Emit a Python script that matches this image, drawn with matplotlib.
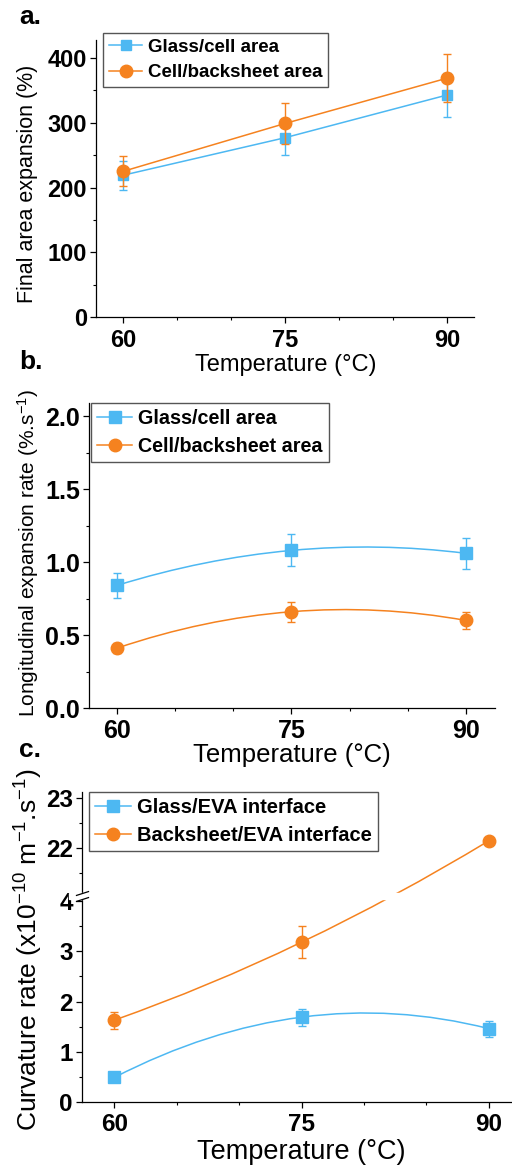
import numpy as np
import matplotlib
matplotlib.use("Agg")
import matplotlib.pyplot as plt
from matplotlib.path import Path
from matplotlib.patches import PathPatch
from matplotlib.lines import Line2D

plt.rcParams["font.family"] = ["Liberation Sans", "DejaVu Sans"]
plt.rcParams["mathtext.fontset"] = "custom"
plt.rcParams["mathtext.rm"] = "Liberation Sans"
plt.rcParams["mathtext.it"] = "Liberation Sans:italic"
plt.rcParams["mathtext.bf"] = "Liberation Sans:bold"

BLUE = "#4db8f2"
ORANGE = "#f5821f"

temps = [60, 75, 90]

# a. final area expansion (%)
a_glass = [219, 277, 343]
a_glass_err = [22, 27, 34]
a_cell = [225, 299, 369]
a_cell_err = [23, 31, 37]

# b. longitudinal expansion rate (%.s-1)
b_glass = [0.84, 1.08, 1.06]
b_glass_err = [0.085, 0.11, 0.105]
b_cell = [0.41, 0.66, 0.60]
b_cell_err = [0.034, 0.068, 0.06]

# c. curvature rate (x10^-10 m-1.s-1)
c_glass = [0.49, 1.69, 1.46]
c_glass_err = [0.03, 0.17, 0.16]
c_back = [1.63, 3.18, 22.15]
c_back_err = [0.17, 0.32, 0.03]

fig = plt.figure(figsize=(5.12, 11.67), dpi=100)
W, H = 512.0, 1167.0


def add_ax(left, top, right, bottom):
    return fig.add_axes([left / W, 1 - bottom / H, (right - left) / W, (bottom - top) / H])


def style_ax(ax, fs, xpad):
    ax.spines["top"].set_visible(False)
    ax.spines["right"].set_visible(False)
    for s in ("left", "bottom"):
        ax.spines[s].set_linewidth(0.9)
    ax.tick_params(which="major", direction="out", length=4.5, width=0.9, labelsize=fs)
    ax.tick_params(which="minor", direction="out", length=2.5, width=0.8)
    ax.tick_params(axis="x", pad=xpad)
    ax.tick_params(axis="y", pad=2)
    for lab in ax.get_xticklabels() + ax.get_yticklabels():
        lab.set_fontweight("bold")
    ax.set_xticks(temps)
    ax.set_xticks([65, 70, 80, 85], minor=True)


def smooth(ax, xs, ys, color):
    # quadratic Bezier through the three points (mid point at t=0.5)
    ctrl_x = 2 * xs[1] - (xs[0] + xs[2]) / 2
    ctrl_y = 2 * ys[1] - (ys[0] + ys[2]) / 2
    verts = [(xs[0], ys[0]), (ctrl_x, ctrl_y), (xs[2], ys[2])]
    p = Path(verts, [Path.MOVETO, Path.CURVE3, Path.CURVE3])
    ax.add_patch(PathPatch(p, fc="none", ec=color, lw=1.1, zorder=2))


def legend(ax, handles, labels, x, y, fs):
    lg = ax.legend(handles, labels, loc="upper left", bbox_to_anchor=(x / W, 1 - y / H),
                   bbox_transform=fig.transFigure, borderaxespad=0, fancybox=False,
                   framealpha=1, edgecolor="#555555", handlelength=1.8, handletextpad=0.3,
                   labelspacing=0.45, borderpad=0.3, prop={"weight": "bold", "size": fs})
    lg.get_frame().set_linewidth(1.0)
    return lg


eb_kw = dict(fmt="none", capsize=3, capthick=1, elinewidth=1)

# ---------------- panel a ----------------
ax = add_ax(96, 40, 474, 317)
ax.errorbar(temps, a_glass, yerr=a_glass_err, ecolor=BLUE, zorder=2, **eb_kw)
l1, = ax.plot(temps, a_glass, "-s", color=BLUE, ms=7.5, lw=1.1, zorder=3)
ax.errorbar(temps, a_cell, yerr=a_cell_err, ecolor=ORANGE, zorder=4, **eb_kw)
l2, = ax.plot(temps, a_cell, "-o", color=ORANGE, ms=9, lw=1.1, zorder=5)
ax.set_xlim(57.5, 92.5)
ax.set_ylim(0, 428)
ax.set_yticks([0, 100, 200, 300, 400])
ax.set_yticks([50, 150, 250, 350], minor=True)
style_ax(ax, 17, 4)
legend(ax, [l1, l2], ["Glass/cell area", "Cell/backsheet area"], 103, 33, 13.5)
fig.text(286 / W, 1 - 365 / H, "Temperature (°C)", ha="center", va="center", fontsize=17)
fig.text(28 / W, 1 - 184 / H, "Final area expansion (%)", rotation=90, ha="center",
         va="center", fontsize=15.5)
fig.text(19 / W, 1 - 17 / H, "a.", ha="left", va="center", fontsize=19, fontweight="bold")

# ---------------- panel b ----------------
ax = add_ax(89, 403, 495, 708)
smooth(ax, temps, b_glass, BLUE)
ax.errorbar(temps, b_glass, yerr=b_glass_err, ecolor=BLUE, zorder=3, **eb_kw)
ax.plot(temps, b_glass, "s", color=BLUE, ms=8, zorder=3)
smooth(ax, temps, b_cell, ORANGE)
ax.errorbar(temps, b_cell, yerr=b_cell_err, ecolor=ORANGE, zorder=3, **eb_kw)
ax.plot(temps, b_cell, "o", color=ORANGE, ms=9, zorder=3)
ax.set_xlim(57.6, 92.5)
ax.set_ylim(0, 2.09)
ax.set_yticks([0, 0.5, 1.0, 1.5, 2.0])
ax.set_yticks([0.25, 0.75, 1.25, 1.75], minor=True)
style_ax(ax, 18, 3.5)
hb = [Line2D([], [], color=BLUE, marker="s", ms=8, lw=1.1),
      Line2D([], [], color=ORANGE, marker="o", ms=9, lw=1.1)]
legend(ax, hb, ["Glass/cell area", "Cell/backsheet area"], 91, 403, 14.2)
fig.text(292 / W, 1 - 755 / H, "Temperature (°C)", ha="center", va="center", fontsize=18.5)
fig.text(28 / W, 1 - 553 / H, "Longitudinal expansion rate (%.s$^{-1}$)", rotation=90,
         ha="center", va="center", fontsize=15)
fig.text(19 / W, 1 - 362 / H, "b.", ha="left", va="center", fontsize=19, fontweight="bold")

# ---------------- panel c (broken y axis) ----------------
B1, B2, G = 4.05, 21.1, 0.1


def fwd(y):
    y = np.asarray(y, dtype=float)
    return np.where(y <= B1, y, np.where(y >= B2, y - B2 + B1 + G, B1 + (y - B1) * G / (B2 - B1)))


def inv(u):
    u = np.asarray(u, dtype=float)
    return np.where(u <= B1, u, np.where(u >= B1 + G, u - B1 - G + B2, B1 + (u - B1) * (B2 - B1) / G))


ax = add_ax(82, 792, 512, 1102)
ax.set_yscale("function", functions=(fwd, inv))
smooth(ax, temps, c_glass, BLUE)
ax.errorbar(temps, c_glass, yerr=c_glass_err, ecolor=BLUE, zorder=3, **eb_kw)
ax.plot(temps, c_glass, "s", color=BLUE, ms=8, zorder=3)

# orange curve: Bezier in the scaled space so it bends smoothly through the break
u = fwd(c_back)
ctrl = inv(2 * u[1] - (u[0] + u[2]) / 2)
p = Path([(temps[0], c_back[0]), (2 * temps[1] - (temps[0] + temps[2]) / 2, float(ctrl)),
          (temps[2], c_back[2])], [Path.MOVETO, Path.CURVE3, Path.CURVE3])
ax.add_patch(PathPatch(p, fc="none", ec=ORANGE, lw=1.1, zorder=2))
ax.errorbar(temps, c_back, yerr=c_back_err, ecolor=ORANGE, zorder=3, **eb_kw)
ax.plot(temps, c_back, "o", color=ORANGE, ms=9, zorder=3)

ax.set_xlim(57.4, 91.85)
ax.set_ylim(0, 23.12)
ax.set_yticks([0, 1, 2, 3, 4, 22, 23], labels=["0", "1", "2", "3", "4", "22", "23"])
ax.set_yticks([0.5, 1.5, 2.5, 3.5, 21.5, 22.5], minor=True)
ax.yaxis.set_minor_formatter(plt.NullFormatter())
style_ax(ax, 17.5, 3.5)

band = ax.axhspan(B1, B2, xmin=-0.03, xmax=1.0, color="white", zorder=2.6)
band.set_clip_on(False)
ax.plot([0, 0], [B1, B2], ls="none", marker=[(-1, -0.32), (1, 0.32)], ms=9.5,
        mec="black", mew=0.9, transform=ax.get_yaxis_transform(), clip_on=False, zorder=3)

hc = [Line2D([], [], color=BLUE, marker="s", ms=8, lw=1.1),
      Line2D([], [], color=ORANGE, marker="o", ms=9, lw=1.1)]
legend(ax, hc, ["Glass/EVA interface", "Backsheet/EVA interface"], 89, 792, 14.5)
fig.text(301 / W, 1 - 1152 / H, "Temperature (°C)", ha="center", va="center", fontsize=19.5)
fig.text(29 / W, 1 - 950 / H, "Curvature rate (x10$^{-10}$ m$^{-1}$.s$^{-1}$)", rotation=90,
         ha="center", va="center", fontsize=19)
fig.text(19 / W, 1 - 750 / H, "c.", ha="left", va="center", fontsize=19, fontweight="bold")

fig.savefig("out.png", dpi=100)
